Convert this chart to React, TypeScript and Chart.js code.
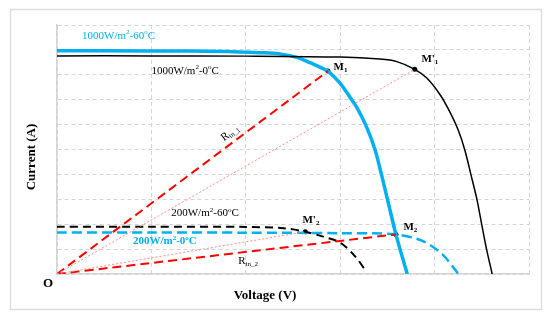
import React, { useEffect, useRef } from "react";
import { Chart, registerables } from "chart.js";
Chart.register(...registerables);

// Axis ranges (no tick labels are shown in the reference)
const X_MAX = 5;
const Y_MAX = 10;

// I-V curves
const cyan1000X = [0, 1.0, 1.8, 2.15, 2.36, 2.54, 2.68, 2.79, 2.87, 3.0, 3.1, 3.18, 3.28, 3.37, 3.44, 3.51, 3.59, 3.71];
const cyan1000Y = [8.97, 8.96, 8.94, 8.89, 8.84, 8.7, 8.49, 8.3, 8.15, 7.66, 7.12, 6.66, 5.9, 4.98, 3.95, 2.85, 1.59, 0];

const black1000X = [0, 1.0, 2.0, 3.0, 3.42, 3.6, 3.79, 3.92, 4.06, 4.16, 4.25, 4.32, 4.39, 4.45, 4.5, 4.55, 4.61];
const black1000Y = [8.76, 8.76, 8.75, 8.71, 8.63, 8.53, 8.22, 7.86, 7.19, 6.52, 5.78, 4.98, 3.91, 2.97, 1.97, 1.0, 0];

const black200X = [0, 1.0, 2.0, 2.4, 2.63, 2.8, 3.0, 3.16, 3.27];
const black200Y = [1.9, 1.9, 1.89, 1.84, 1.7, 1.52, 1.26, 0.7, 0.13];

const cyan200X = [0, 1.0, 2.0, 3.0, 3.59, 3.87, 4.08, 4.22, 4.25];
const cyan200Y = [1.67, 1.67, 1.66, 1.64, 1.59, 1.33, 0.8, 0.16, 0];

// Operating points
const M1 = { x: 2.87, y: 8.15 };
const M1p = { x: 3.79, y: 8.22 };
const M2 = { x: 3.59, y: 1.59 };
const M2p = { x: 2.63, y: 1.7 };

const toPts = (xs: number[], ys: number[]) => xs.map((x, i) => ({ x, y: ys[i] }));

type Part = { t: string; k?: "sup" | "sub" };
type Label = { x: number; y: number; parts: Part[]; color: string; bold?: boolean; size: number; rot?: number };

const LABELS: Label[] = [
  { x: 0.265, y: 9.57, color: "#00b0f0", size: 11, parts: [{ t: "1000W/m" }, { t: "2", k: "sup" }, { t: "-60" }, { t: "o", k: "sup" }, { t: "C" }] },
  { x: 1.0, y: 8.16, color: "#000", size: 11, parts: [{ t: "1000W/m" }, { t: "2", k: "sup" }, { t: "-0" }, { t: "o", k: "sup" }, { t: "C" }] },
  { x: 1.21, y: 2.44, color: "#000", size: 11, parts: [{ t: "200W/m" }, { t: "2", k: "sup" }, { t: "-60" }, { t: "o", k: "sup" }, { t: "C" }] },
  { x: 0.805, y: 1.3, color: "#00b0f0", size: 11, bold: true, parts: [{ t: "200W/m" }, { t: "2", k: "sup" }, { t: "-0" }, { t: "o", k: "sup" }, { t: "C" }] },
  { x: 2.93, y: 8.31, color: "#000", size: 11, bold: true, parts: [{ t: "M" }, { t: "1", k: "sub" }] },
  { x: 3.86, y: 8.63, color: "#000", size: 11, bold: true, parts: [{ t: "M'" }, { t: "1", k: "sub" }] },
  { x: 2.6, y: 2.17, color: "#000", size: 11, bold: true, parts: [{ t: "M'" }, { t: "2", k: "sub" }] },
  { x: 3.67, y: 1.89, color: "#000", size: 11, bold: true, parts: [{ t: "M" }, { t: "2", k: "sub" }] },
  { x: 1.92, y: 0.52, color: "#000", size: 11, parts: [{ t: "R" }, { t: "in_2", k: "sub" }] },
  { x: 1.75, y: 5.42, color: "#000", size: 11, rot: -37, parts: [{ t: "R" }, { t: "in_1", k: "sub" }] },
];

const FONT = '"Liberation Serif", "Times New Roman", serif';

function drawParts(ctx: CanvasRenderingContext2D, parts: Part[], x: number, y: number, size: number, bold: boolean) {
  let cx = x;
  for (const p of parts) {
    const s = p.k ? Math.round(size * 0.68) : size;
    ctx.font = `${bold ? "bold " : ""}${s}px ${FONT}`;
    const dy = p.k === "sup" ? -size * 0.3 : p.k === "sub" ? size * 0.25 : 0;
    ctx.fillText(p.t, cx, y + dy);
    cx += ctx.measureText(p.t).width;
  }
}

const decorPlugin = {
  id: "decor",
  beforeDraw(chart: any) {
    const ctx = chart.ctx as CanvasRenderingContext2D;
    ctx.save();
    ctx.fillStyle = "#ffffff";
    ctx.fillRect(0, 0, chart.width, chart.height);
    ctx.strokeStyle = "#dedede";
    ctx.lineWidth = 1.5;
    ctx.strokeRect(10.5, 9.5, 531, 300);
    ctx.restore();
  },
  afterDatasetsDraw(chart: any) {
    const ctx = chart.ctx as CanvasRenderingContext2D;
    const xs = chart.scales.x;
    const ys = chart.scales.y;
    const area = chart.chartArea;
    ctx.save();
    ctx.textBaseline = "middle";
    ctx.textAlign = "left";
    for (const l of LABELS) {
      ctx.fillStyle = l.color;
      const px = xs.getPixelForValue(l.x);
      const py = ys.getPixelForValue(l.y);
      if (l.rot) {
        ctx.save();
        ctx.translate(px, py);
        ctx.rotate((l.rot * Math.PI) / 180);
        drawParts(ctx, l.parts, 0, 0, l.size, !!l.bold);
        ctx.restore();
      } else {
        drawParts(ctx, l.parts, px, py, l.size, !!l.bold);
      }
    }
    // origin label and axis titles
    ctx.fillStyle = "#000";
    ctx.font = `bold 13px ${FONT}`;
    ctx.textAlign = "center";
    ctx.fillText("O", area.left - 9, area.bottom + 10);
    ctx.fillText("Voltage (V)", area.left + 208, area.bottom + 22);
    ctx.save();
    ctx.translate(area.left - 25, area.top + 132);
    ctx.rotate(-Math.PI / 2);
    ctx.fillText("Current (A)", 0, 0);
    ctx.restore();
    ctx.restore();
  },
};

export default function App() {
  const ref = useRef<HTMLCanvasElement>(null);
  useEffect(() => {
    if (!ref.current) return;
    const line = (data: any, color: string, width: number, dash: number[]) => ({
      data,
      showLine: true,
      borderColor: color,
      backgroundColor: color,
      borderWidth: width,
      borderDash: dash,
      pointRadius: 0,
      tension: 0.3,
      fill: false,
    });
    const chart = new Chart(ref.current, {
      type: "scatter",
      data: {
        datasets: [
          line([{ x: 0, y: 0 }, M1p], "#ff8c8c", 1, [2, 2]),
          line([{ x: 0, y: 0 }, M2p], "#ff8c8c", 1, [2, 2]),
          line([{ x: 0, y: 0 }, M1], "#ff0000", 2, [9, 5]),
          line([{ x: 0, y: 0 }, M2], "#ff0000", 2, [9, 5]),
          line(toPts(black200X, black200Y), "#000000", 2, [8, 5]),
          line(toPts(cyan200X, cyan200Y), "#00b0f0", 2.5, [10, 5]),
          line(toPts(black1000X, black1000Y), "#000000", 1.5, []),
          line(toPts(cyan1000X, cyan1000Y), "#00b0f0", 3.5, []),
          {
            data: [M1, M1p, M2, M2p],
            showLine: false,
            pointRadius: 2.5,
            pointBackgroundColor: "#000",
            pointBorderColor: "#000",
            pointBorderWidth: 0,
          } as any,
        ] as any,
      },
      options: {
        responsive: false,
        animation: false,
        devicePixelRatio: 1,
        layout: { padding: { left: 57, top: 25, right: 21, bottom: 49 } },
        plugins: { legend: { display: false }, tooltip: { enabled: false } },
        scales: {
          x: {
            type: "linear",
            min: 0,
            max: X_MAX,
            ticks: { display: false, stepSize: 1 },
            grid: { color: "#d4d4d4", drawTicks: false, lineWidth: 1 },
            border: { display: true, color: "#d4d4d4", width: 1.5, dash: [4, 3] },
          },
          y: {
            type: "linear",
            min: 0,
            max: Y_MAX,
            ticks: { display: false, stepSize: 1 },
            grid: { color: "#d4d4d4", drawTicks: false, lineWidth: 1 },
            border: { display: true, color: "#d4d4d4", width: 1.5, dash: [4, 3] },
          },
        },
      } as any,
      plugins: [decorPlugin],
    });
    return () => chart.destroy();
  }, []);
  return (
    <div style={{ position: "fixed", left: 0, top: 0, width: 550, height: 323, background: "#fff" }}>
      <canvas ref={ref} width={550} height={323} style={{ width: 550, height: 323, display: "block" }} />
    </div>
  );
}
